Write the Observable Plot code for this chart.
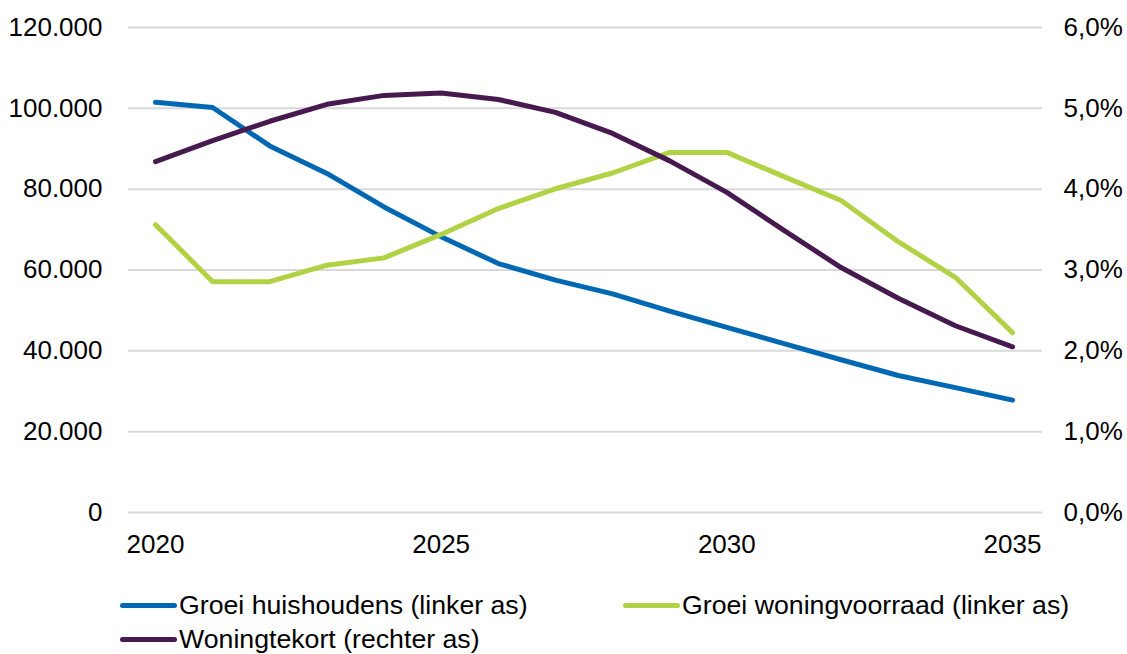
<!DOCTYPE html>
<html>
<head>
<meta charset="utf-8">
<script src="https://cdn.jsdelivr.net/npm/d3@7"></script>
<script src="https://cdn.jsdelivr.net/npm/@observablehq/plot@0.6"></script>
<style>
  html, body { margin: 0; padding: 0; background: #fff; }
  body { width: 1127px; height: 654px; overflow: hidden; font-family: "Liberation Sans", Arial, sans-serif; }
  #legend { position: relative; height: 84px; font-size: 26.7px; color: #000; }
  .item { position: absolute; display: flex; align-items: center; height: 34px; line-height: 30px; white-space: nowrap; }
  .swatch { width: 57px; height: 5px; border-radius: 3px; margin-right: 2px; }
</style>
</head>
<body>
<div id="chart"></div>
<div id="legend"></div>
<script>
const years = [2020, 2021, 2022, 2023, 2024, 2025, 2026, 2027, 2028, 2029, 2030, 2031, 2032, 2033, 2034, 2035];
const groeiHuishoudens = [101500, 100200, 90700, 83900, 75600, 68200, 61600, 57500, 54100, 49800, 45800, 41800, 37800, 33900, 30900, 27800];
const groeiWoningvoorraad = [71200, 57100, 57100, 61200, 63000, 68800, 75200, 80100, 84000, 89100, 89100, 83100, 77200, 67000, 58200, 44500];
const woningtekortPct = [4.34, 4.60, 4.84, 5.05, 5.16, 5.19, 5.11, 4.95, 4.69, 4.35, 3.96, 3.49, 3.03, 2.65, 2.31, 2.05];
const seriesNames = ["Groei huishoudens (linker as)", "Groei woningvoorraad (linker as)", "Woningtekort (rechter as)"];
const seriesColors = ["#0068b2", "#b2d245", "#461a4e"];
const xTicks = [2020, 2025, 2030, 2035];
const leftTicks = [0, 20000, 40000, 60000, 80000, 100000, 120000];
const rightTicks = [0, 1, 2, 3, 4, 5, 6];

const pctToLeft = 20000; // 1% on right axis == 20.000 on left axis

const nl = d3.formatLocale({decimal: ",", thousands: ".", grouping: [3], currency: ["€", ""]});
const fmtLeft = nl.format(",");
const fmtPct = nl.format(",.1f");

const data = [];
years.forEach((yr, i) => {
  data.push({year: yr, series: seriesNames[0], value: groeiHuishoudens[i]});
  data.push({year: yr, series: seriesNames[1], value: groeiWoningvoorraad[i]});
  data.push({year: yr, series: seriesNames[2], value: woningtekortPct[i] * pctToLeft});
});

const chart = Plot.plot({
  width: 1127,
  height: 570,
  marginLeft: 128,
  marginRight: 85,
  marginTop: 27,
  marginBottom: 58,
  style: {fontFamily: '"Liberation Sans", Arial, sans-serif', fontSize: "26px", color: "#000", background: "#fff"},
  x: {domain: [2020, 2035], insetLeft: 27, insetRight: 30},
  y: {domain: [0, 120000]},
  color: {domain: seriesNames, range: seriesColors},
  marks: [
    Plot.gridY(leftTicks, {stroke: "#d9d9d9", strokeOpacity: 1, strokeWidth: 2}),
    Plot.axisY(leftTicks, {anchor: "left", tickSize: 0, tickPadding: 26, tickFormat: fmtLeft, label: null, fontSize: 26}),
    Plot.axisY(rightTicks.map(d => d * pctToLeft), {anchor: "right", tickSize: 0, tickPadding: 21, tickFormat: d => fmtPct(d / pctToLeft) + "%", label: null, fontSize: 26}),
    Plot.axisX(xTicks, {anchor: "bottom", tickSize: 0, tickPadding: 22, tickFormat: d => String(d), label: null, fontSize: 26}),
    Plot.line(data, {x: "year", y: "value", z: "series", stroke: "series", strokeWidth: 5, strokeLinecap: "round", strokeLinejoin: "round"})
  ]
});
document.getElementById("chart").appendChild(chart);

const legend = document.getElementById("legend");
const positions = [[120, 18], [623, 18], [120, 52]];
seriesNames.forEach((name, i) => {
  const item = document.createElement("div");
  item.className = "item";
  item.style.left = positions[i][0] + "px";
  item.style.top = positions[i][1] + "px";
  const sw = document.createElement("span");
  sw.className = "swatch";
  sw.style.background = seriesColors[i];
  const tx = document.createElement("span");
  tx.textContent = name;
  item.appendChild(sw);
  item.appendChild(tx);
  legend.appendChild(item);
});
</script>
</body>
</html>
